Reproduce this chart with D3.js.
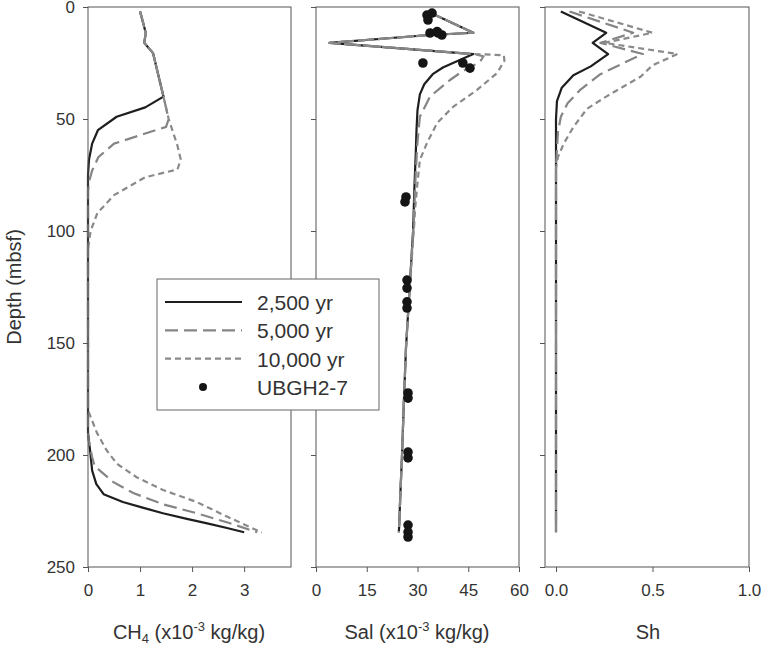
<!DOCTYPE html>
<html>
<head>
  <meta charset="utf-8">
  <title>CH4, salinity and hydrate saturation profiles</title>
  <script src="https://d3js.org/d3.v7.min.js"></script>
  <style>
    body { margin: 0; background: #fff; }
    svg { font-family: "Liberation Sans", Arial, sans-serif; }
    .axis path, .axis line { stroke: #555; }
    .axis text { fill: #333; font-size: 17px; }
    .frame { fill: none; stroke: #555; stroke-width: 1; }
    .title { fill: #333; font-size: 20px; }
    .legend text { fill: #333; font-size: 21px; }
  </style>
</head>
<body>
  <svg width="761" height="648"></svg>
  <script>
    // [value, depth (mbsf)]
    const ch4_2500 = [[1.0,2],[1.03,4.5],[1.11,11.6],[1.08,16],[1.25,20.6],[1.45,40],[1.1,44.8],[0.55,49],[0.19,55],
      [0.08,61],[0.02,68],[0,75],[0,190],[0.04,198],[0.08,207],[0.16,213],[0.3,217.5],[0.67,221],[1.05,223.5],
      [1.44,226],[1.9,228.5],[2.29,230.5],[2.65,232.5],[3.0,234.5]];
    const ch4_5000 = [[1.0,2],[1.03,4.5],[1.11,11.6],[1.08,16],[1.25,20.6],[1.45,40],[1.55,50],[1.5,53.5],[1.1,56.5],
      [0.5,61],[0.2,67],[0.08,73],[0.02,78],[0,82],[0,192],[0.08,201],[0.13,205],[0.48,212],[0.87,217],[1.44,222],
      [2.09,226],[2.73,230.5],[3.25,234.5]];
    const ch4_10000 = [[1.0,2],[1.03,4.5],[1.11,11.6],[1.08,16],[1.25,20.6],[1.45,40],[1.55,50],[1.72,62],[1.78,68],
      [1.72,72.5],[1.1,76],[0.5,84],[0.18,92],[0.05,100],[0,108],[0,180],[0.17,190],[0.36,198],[0.56,204],[0.94,210],
      [1.44,215.6],[2.09,221],[2.67,227.5],[3.34,234.6]];

    const sal_2500 = [[33,2],[46.5,11.5],[33.5,12.5],[4,16],[46.5,21],[42,24],[37.5,27],[34.5,30],[32,34.5],[30.7,39],
      [30,46],[29.7,55],[29.5,65],[29.1,80],[28.7,100],[27.7,125],[26.6,152],[26,175],[25.4,201],[25,215],[24.5,234.5]];
    const sal_5000 = [[33,2],[46.5,11.5],[33.5,12.5],[4,16],[46.5,21],[49.5,22],[48.5,24.5],[43,29],[39.6,32.6],
      [33.7,40],[30.7,49],[29.9,62],[29.3,80],[28.9,95],[28.7,100],[27.7,125],[26.6,152],[26,175],[25.4,201],[25,215],[24.5,234.5]];
    const sal_10000 = [[33,2],[46.5,11.5],[33.5,12.5],[4,16],[46.5,21],[55.5,21.5],[55.7,24],[53.5,29.5],[47.6,37],
      [40.5,44.6],[35.8,51.8],[32.8,60.7],[30.7,68.3],[29.9,80],[29.3,90],[28.9,100],[27.7,125],[26.6,152],[26,175],
      [25.4,201],[25,215],[24.5,234.5]];
    const sal_ubgh2_7 = [[32.8,3.6],[34.3,2.7],[33.1,5.8],[33.7,11.6],[36.1,11.6],[37.2,12.5],[35.8,11],[31.6,25],
      [43.4,25],[45.5,27.3],[26.6,84.8],[26.3,87],[26.9,121.9],[26.9,125.5],[26.9,131.6],[26.9,134.4],[27.2,172.3],
      [27.2,174.6],[27.2,198.7],[27.2,201.3],[27.2,231.3],[27.2,234.4],[27.2,236.6]];

    const sh_2500 = [[0.025,2],[0.26,11.5],[0.19,16],[0.27,21],[0.18,26.5],[0.09,30.5],[0.03,36],[0.005,42],[0,50],[0,234.5]];
    const sh_5000 = [[0.07,2],[0.4,11.5],[0.23,16],[0.45,21],[0.35,25],[0.23,30],[0.125,37],[0.06,43],[0.025,49],
      [0.01,56],[0,71],[0,234.5]];
    const sh_10000 = [[0.12,2],[0.5,11.5],[0.25,16],[0.63,21],[0.5,26],[0.44,31],[0.26,40],[0.16,45.5],[0.09,53.6],
      [0.04,61],[0.01,67],[0,72],[0,234.5]];

    const depthTicks = [0, 50, 100, 150, 200, 250];
    const ch4Ticks = [0, 1, 2, 3];
    const salTicks = [0, 15, 30, 45, 60];
    const shTicks = [0, 0.5, 1.0];
    const legendLabels = ["2,500 yr", "5,000 yr", "10,000 yr", "UBGH2-7"];

    const svg = d3.select("svg");
    const yTop = 7, yBottom = 567;

    const y = d3.scaleLinear().domain([0, 250]).range([yTop, yBottom]);

    const styles = [
      { stroke: "#1e1e1e", dash: null, width: 2.2 },
      { stroke: "#858585", dash: "13,6", width: 2.2 },
      { stroke: "#8a8a8a", dash: "6,4", width: 2.2 }
    ];

    const panels = [
      { x0: 88, x1: 291, domain: [0, 3.9], ticks: ch4Ticks, fmt: d3.format("d"),
        series: [ch4_2500, ch4_5000, ch4_10000], labels: true },
      { x0: 316, x1: 519, domain: [0, 60], ticks: salTicks, fmt: d3.format("d"),
        series: [sal_2500, sal_5000, sal_10000], dots: sal_ubgh2_7 },
      { x0: 545, x1: 749, domain: [-0.057, 1.0], ticks: shTicks, fmt: d3.format(".1f"),
        series: [sh_2500, sh_5000, sh_10000] }
    ];

    panels.forEach(p => {
      const x = d3.scaleLinear().domain(p.domain).range([p.x0, p.x1]);
      const g = svg.append("g");

      const line = d3.line().x(d => x(d[0])).y(d => y(d[1]));
      p.series.forEach((s, i) => {
        g.append("path")
          .datum(s)
          .attr("d", line)
          .attr("fill", "none")
          .attr("stroke", styles[i].stroke)
          .attr("stroke-width", styles[i].width)
          .attr("stroke-dasharray", styles[i].dash)
          .attr("stroke-linejoin", "round");
      });

      if (p.dots) {
        g.selectAll(".dot")
          .data(p.dots)
          .join("circle")
          .attr("class", "dot")
          .attr("cx", d => x(d[0]))
          .attr("cy", d => y(d[1]))
          .attr("r", 4.8)
          .attr("fill", "#151515");
      }

      // frame
      g.append("rect")
        .attr("class", "frame")
        .attr("x", p.x0).attr("y", yTop)
        .attr("width", p.x1 - p.x0).attr("height", yBottom - yTop);

      const yAxis = d3.axisLeft(y).tickValues(depthTicks).tickSize(5).tickPadding(8);
      if (!p.labels) yAxis.tickFormat("");
      svg.append("g")
        .attr("class", "axis")
        .attr("transform", `translate(${p.x0},0)`)
        .call(yAxis)
        .call(a => a.select(".domain").remove());

      svg.append("g")
        .attr("class", "axis")
        .attr("transform", `translate(0,${yBottom})`)
        .call(d3.axisBottom(x).tickValues(p.ticks).tickFormat(p.fmt).tickSize(5).tickPadding(12).tickSizeOuter(0))
        .call(a => a.select(".domain").remove());
    });

    // axis titles
    svg.append("text")
      .attr("class", "title")
      .attr("transform", `translate(21,${(yTop + yBottom) / 2}) rotate(-90)`)
      .attr("text-anchor", "middle")
      .attr("font-size", 21)
      .text("Depth (mbsf)");

    const ch4Title = svg.append("text").attr("class", "title")
      .attr("x", 189).attr("y", 639).attr("text-anchor", "middle");
    ch4Title.append("tspan").text("CH");
    ch4Title.append("tspan").attr("font-size", 13).attr("dy", 4).text("4");
    ch4Title.append("tspan").attr("dy", -4).text(" (x10");
    ch4Title.append("tspan").attr("font-size", 13).attr("dy", -8).text("-3");
    ch4Title.append("tspan").attr("dy", 8).text(" kg/kg)");

    const salTitle = svg.append("text").attr("class", "title")
      .attr("x", 417).attr("y", 639).attr("text-anchor", "middle");
    salTitle.append("tspan").text("Sal (x10");
    salTitle.append("tspan").attr("font-size", 13).attr("dy", -8).text("-3");
    salTitle.append("tspan").attr("dy", 8).text(" kg/kg)");

    svg.append("text").attr("class", "title")
      .attr("x", 648).attr("y", 639).attr("text-anchor", "middle")
      .text("Sh");

    // legend
    const legend = svg.append("g").attr("class", "legend");
    legend.append("rect")
      .attr("x", 157).attr("y", 279).attr("width", 222).attr("height", 131)
      .attr("fill", "#fff").attr("stroke", "#666");
    const rowY = d3.scalePoint().domain(legendLabels).range([302, 387]);
    legendLabels.forEach((lab, i) => {
      const yy = rowY(lab);
      if (i < 3) {
        legend.append("line")
          .attr("x1", 165).attr("x2", 242).attr("y1", yy).attr("y2", yy)
          .attr("stroke", styles[i].stroke)
          .attr("stroke-width", styles[i].width)
          .attr("stroke-dasharray", styles[i].dash);
      } else {
        legend.append("circle").attr("cx", 203).attr("cy", yy).attr("r", 4).attr("fill", "#151515");
      }
      legend.append("text").attr("x", 257).attr("y", yy + 8).text(lab);
    });
  </script>
</body>
</html>
